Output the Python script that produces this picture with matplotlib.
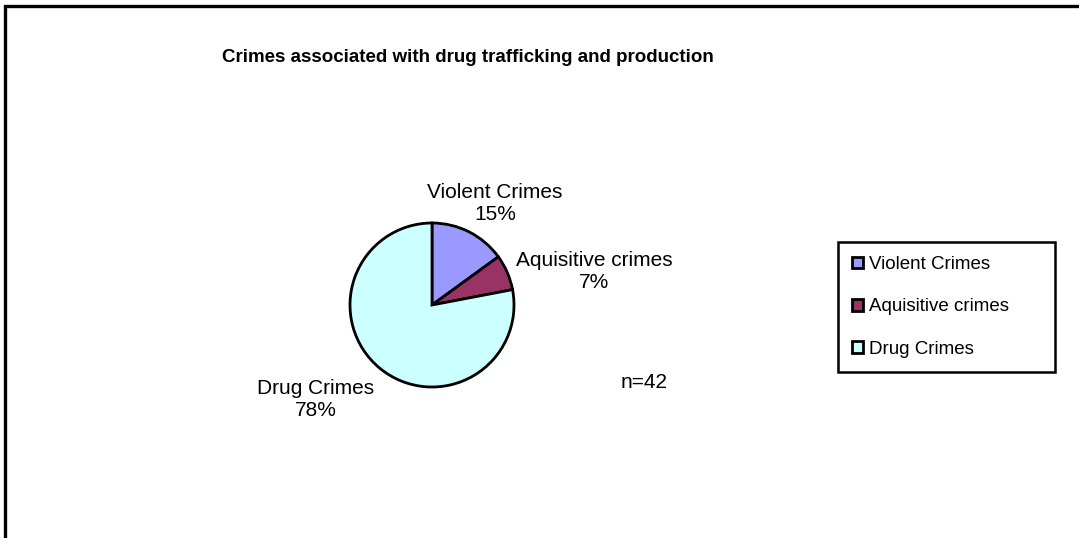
import matplotlib.pyplot as plt
from matplotlib.patches import Rectangle

plt.rcParams['font.family'] = ['Liberation Sans', 'DejaVu Sans']

# data
categories = ['Violent Crimes', 'Aquisitive crimes', 'Drug Crimes']
shares = [15, 7, 78]
colors = ['#9999FF', '#993366', '#CCFFFF']
title = 'Crimes associated with drug trafficking and production'
note = 'n=42'

W, H = 1079, 538
fig = plt.figure(figsize=(W / 100, H / 100), dpi=100)
ax = fig.add_axes([0, 0, 1, 1])

# pie in pixel-like data units (y measured from bottom)
cx, cy, r = 432, H - 305, 82
wedges, _ = ax.pie(shares, colors=colors, startangle=90, counterclock=False,
                   center=(cx, cy), radius=r, frame=True,
                   wedgeprops=dict(edgecolor='black', linewidth=2.0))
ax.set_xlim(0, W)
ax.set_ylim(0, H)
ax.axis('off')

# data labels, Excel style
label_pos = [(495, H - 204), (594, H - 271), (316, H - 399)]
for name, val, (lx, ly) in zip(categories, shares, label_pos):
    ax.text(lx, ly, f'{name}\n{val}%', ha='center', va='center',
            fontsize=15, linespacing=1.2)

ax.text(644, H - 383, note, ha='center', va='center', fontsize=15)

ax.text(468, H - 58, title, ha='center', va='center', fontsize=13.5,
        fontweight='bold')

# outer chart border (extends past the right and bottom edge)
ax.add_patch(Rectangle((5, -20), W + 20, H - 6 + 20, fill=False,
                       edgecolor='black', linewidth=2.4))

leg = ax.legend(wedges, categories, loc='upper left',
                bbox_to_anchor=(838 / W, 1 - 367 / H, 217 / W, 125 / H),
                mode='expand', borderaxespad=0, fancybox=False,
                edgecolor='black', framealpha=1, fontsize=13.5,
                handlelength=0.6, handleheight=0.6, handletextpad=0.3,
                labelspacing=1.35, borderpad=0.75)
leg.get_frame().set_linewidth(1.8)
for h in leg.legend_handles:
    h.set_linewidth(2.0)

fig.savefig('out.png', dpi=100)
